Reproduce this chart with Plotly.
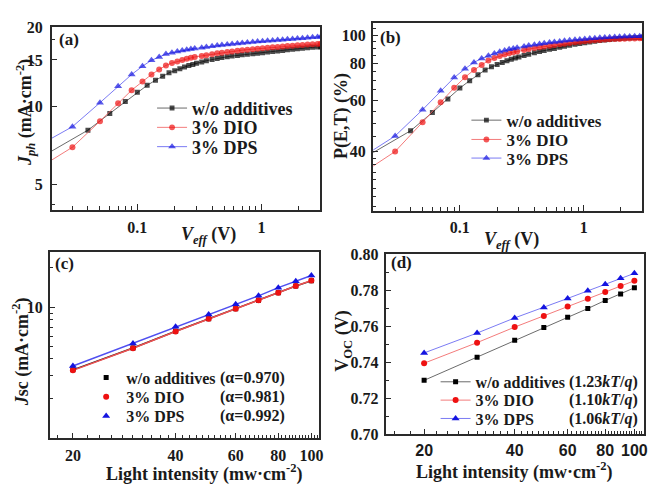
import plotly.graph_objects as go

W, H = 649, 484

# ---------------- data ----------------
# (a) photocurrent vs effective voltage
veff_even = [0.02, 0.04, 0.06, 0.08, 0.10, 0.12, 0.14, 0.16, 0.18, 0.20, 0.22, 0.24, 0.26, 0.28, 0.30,
             0.33, 0.36, 0.40, 0.44, 0.48, 0.53, 0.58, 0.64, 0.70, 0.77, 0.85, 0.93, 1.02, 1.12, 1.23,
             1.35, 1.48, 1.62, 1.78, 1.95, 2.14, 2.35, 2.58, 2.83, 3.0]
veff_odd = [0.02, 0.03, 0.05, 0.07, 0.09, 0.11, 0.13, 0.15, 0.17, 0.19, 0.21, 0.23, 0.25, 0.27, 0.29,
            0.33, 0.36, 0.40, 0.44, 0.48, 0.53, 0.58, 0.64, 0.70, 0.77, 0.85, 0.93, 1.02, 1.12, 1.23,
            1.35, 1.48, 1.62, 1.78, 1.95, 2.14, 2.35, 2.58, 2.83, 3.0]

jph_none = [6.69, 8.09, 9.37, 10.4, 11.3, 12.0, 12.55, 13.0, 13.4, 13.65, 13.9, 14.1, 14.28, 14.43, 14.57,
            14.75, 14.9, 15.05, 15.2, 15.32, 15.43, 15.53, 15.62, 15.7, 15.78, 15.86, 15.93, 16.0, 16.08, 16.16,
            16.24, 16.32, 16.4, 16.48, 16.56, 16.63, 16.7, 16.77, 16.83, 16.87]
jph_dio = [6.18, 6.96, 8.75, 10.26, 11.5, 12.4, 13.2, 13.8, 14.3, 14.6, 14.8, 15.0, 15.15, 15.3, 15.4,
           15.55, 15.65, 15.78, 15.9, 16.0, 16.1, 16.18, 16.27, 16.35, 16.43, 16.5, 16.57, 16.63, 16.7, 16.77,
           16.83, 16.9, 16.96, 17.02, 17.08, 17.13, 17.18, 17.23, 17.27, 17.3]
jph_dps = [7.49, 8.34, 10.3, 11.9, 13.2, 14.2, 14.96, 15.4, 15.8, 16.0, 16.15, 16.3, 16.42, 16.52, 16.6,
           16.72, 16.82, 16.93, 17.03, 17.12, 17.2, 17.28, 17.36, 17.43, 17.5, 17.57, 17.63, 17.7, 17.76, 17.82,
           17.88, 17.94, 18.0, 18.06, 18.12, 18.18, 18.25, 18.32, 18.38, 18.42]

# (b) dissociation probability P(E,T) (%)
p_none = [39.7, 47.1, 54.4, 60.5, 65.9, 69.9, 73.2, 76.0, 77.9, 79.4, 80.6, 81.7, 82.7, 83.5, 84.2,
          85.2, 86.0, 87.0, 87.9, 88.6, 89.4, 90.1, 90.9, 91.6, 92.3, 93.0, 93.6, 94.2, 94.8, 95.3,
          95.8, 96.2, 96.6, 97.0, 97.3, 97.6, 97.8, 98.0, 98.2, 98.3]
p_dio = [35.7, 40.0, 50.4, 59.0, 66.1, 71.8, 76.0, 79.1, 81.9, 83.5, 84.8, 85.8, 86.7, 87.4, 88.0,
         89.0, 89.6, 90.3, 90.9, 91.4, 92.0, 92.5, 93.0, 93.5, 94.0, 94.5, 94.9, 95.3, 95.7, 96.0,
         96.3, 96.6, 96.8, 97.0, 97.1, 97.2, 97.3, 97.4, 97.5, 97.6]
p_dps = [40.5, 45.2, 55.6, 64.5, 71.6, 76.7, 80.7, 83.2, 85.1, 86.5, 87.7, 88.6, 89.4, 90.0, 90.6,
         91.5, 92.1, 92.7, 93.3, 93.8, 94.3, 94.7, 95.2, 95.6, 96.0, 96.4, 96.7, 97.0, 97.3, 97.6,
         97.9, 98.1, 98.3, 98.5, 98.7, 98.9, 99.0, 99.1, 99.2, 99.3]

# (c), (d) light intensity dependence
light = [20, 30, 40, 50, 60, 70, 80, 90, 100]
jsc_none = [3.30, 4.86, 6.53, 8.15, 9.71, 11.3, 12.9, 14.5, 15.9]
jsc_dio = [3.27, 4.84, 6.50, 8.13, 9.70, 11.3, 12.9, 14.5, 16.0]
jsc_dps = [3.53, 5.26, 7.07, 8.77, 10.5, 12.2, 14.1, 15.8, 17.5]
voc_none = [0.7300, 0.7428, 0.7522, 0.7593, 0.7650, 0.7698, 0.7743, 0.7779, 0.7813]
voc_dio = [0.7395, 0.7509, 0.7595, 0.7657, 0.7709, 0.7752, 0.7789, 0.7823, 0.7852]
voc_dps = [0.7452, 0.7562, 0.7646, 0.7704, 0.7754, 0.7796, 0.7832, 0.7866, 0.7893]

names = ["w/o additives", "3% DIO", "3% DPS"]
alpha_labels = ["(α=0.970)", "(α=0.981)", "(α=0.992)"]
kt_labels = ["(1.23<i>kT</i>/<i>q</i>)", "(1.10<i>kT</i>/<i>q</i>)", "(1.06<i>kT</i>/<i>q</i>)"]

# ---------------- style ----------------
SERIF = "Liberation Serif, Times New Roman, serif"
SANS = "Liberation Sans, Arial, sans-serif"
TXT = "#1a1a1a"
mcol = ["#000000", "#ee1111", "#1414e0"]
lcol = ["rgba(70,70,70,0.8)", "rgba(240,90,90,0.8)", "rgba(90,90,240,0.8)"]
fitcol = ["#222222", "#f05050", "#5050f0"]
syms = ["square", "circle", "triangle-up"]
msz = [5, 6, 7]


def fx(px):
    return px / W


def fy(py):
    return 1 - py / H


fig = go.Figure()

# legend placement per panel: (text-start x, row centres y, font size)
leg_pos = [
    (193.0, [104.0, 124.0, 144.0], 18),
    (509.3, [116.7, 136.7, 156.0], 17),
    (126.7, [383.0, 403.0, 423.0], 16),
    (478.3, [387.5, 406.5, 425.5], 16),
]


def legname(p, i):
    k = p * 3 + i + 1
    return "legend" if k == 1 else "legend%d" % k


# (a) and (b)
xs_ab = [veff_even, veff_odd, veff_odd]
for p, (ys_list, xa, ya) in enumerate([([jph_none, jph_dio, jph_dps], "x", "y"),
                                       ([p_none, p_dio, p_dps], "x2", "y2")]):
    for i in range(3):
        sizes = [0] + [msz[i]] * (len(xs_ab[i]) - 1)
        fig.add_trace(go.Scatter(
            x=xs_ab[i], y=ys_list[i], mode="lines+markers", name=names[i],
            line=dict(color=lcol[i], width=1),
            marker=dict(symbol=syms[i], color=mcol[i], size=sizes, line=dict(width=0)),
            xaxis=xa, yaxis=ya, legend=legname(p, i)))

# (c)
jscs = [jsc_none, jsc_dio, jsc_dps]
for i in range(3):
    fig.add_trace(go.Scatter(x=light, y=jscs[i], mode="lines", showlegend=False,
                             line=dict(color=fitcol[i], width=1.5),
                             xaxis="x3", yaxis="y3"))
for i in range(3):
    fig.add_trace(go.Scatter(x=light, y=jscs[i], mode="markers", name=names[i],
                             marker=dict(symbol=syms[i], color=mcol[i], size=msz[i], line=dict(width=0)),
                             xaxis="x3", yaxis="y3", legend=legname(2, i)))

# (d)
vocs = [voc_none, voc_dio, voc_dps]
for i in range(3):
    fig.add_trace(go.Scatter(x=light, y=vocs[i], mode="lines+markers", name=names[i],
                             line=dict(color=lcol[i], width=1),
                             marker=dict(symbol=syms[i], color=mcol[i], size=msz[i], line=dict(width=0)),
                             xaxis="x4", yaxis="y4", legend=legname(3, i)))

axis_common = dict(showline=True, linecolor="#2a2a2a", linewidth=1.6, mirror=True,
                   ticks="inside", ticklen=6, tickwidth=1.3, tickcolor="#2a2a2a",
                   showgrid=False, zeroline=False,
                   tickfont=dict(family=SERIF, size=16, color=TXT, weight="bold"))
minor_common = dict(ticks="inside", ticklen=3.5, tickwidth=1, tickcolor="#2a2a2a", showgrid=False)

logminor_v = [0.02, 0.03, 0.04, 0.05, 0.06, 0.07, 0.08, 0.09, 0.2, 0.3, 0.4, 0.5, 0.6, 0.7, 0.8, 0.9, 2, 3]
light_minor = [v for v in range(16, 108, 2) if v not in (20, 40, 60, 80, 100)]

fig.update_layout(
    width=W, height=H, margin=dict(l=0, r=0, t=0, b=0),
    paper_bgcolor="white", plot_bgcolor="white",
    font=dict(family=SERIF, color=TXT),
    xaxis=dict(axis_common, type="log", domain=[fx(52), fx(322.3)], anchor="y",
               range=[-1.690, 0.474], tickvals=[0.1, 1], ticktext=["0.1", "1"], ticklabelstandoff=2,
               minor=dict(minor_common, tickvals=logminor_v)),
    yaxis=dict(axis_common, type="log", domain=[fy(209), fy(20)], anchor="x",
               range=[0.604, 1.301], tickvals=[5, 10, 15, 20], ticktext=["5", "10", "15", "20"],
               ticklabelstandoff=4,
               minor=dict(minor_common, tickvals=[4.2, 18])),
    xaxis2=dict(axis_common, type="log", domain=[fx(375), fx(646)], anchor="y2",
                range=[-1.704, 0.471], tickvals=[0.1, 1], ticktext=["0.1", "1"], ticklabelstandoff=1,
                minor=dict(minor_common, tickvals=logminor_v)),
    yaxis2=dict(axis_common, type="log", domain=[fy(210), fy(16)], anchor="x2",
                range=[1.40, 2.04], tickvals=[40, 60, 80, 100], ticktext=["40", "60", "80", "100"],
                ticklabelstandoff=2,
                minor=dict(minor_common, tickvals=[26, 28, 30, 32, 34, 36, 38, 45, 50, 55, 65, 70, 75, 85, 90, 95, 105])),
    xaxis3=dict(axis_common, type="log", domain=[fx(50), fx(321)], anchor="y3",
                range=[1.233, 2.0224], tickvals=[20, 40, 60, 80, 100], ticktext=["20", "40", "60", "80", "100"],
                ticklabelstandoff=2,
                minor=dict(minor_common, tickvals=light_minor)),
    yaxis3=dict(axis_common, type="log", domain=[fy(446), fy(253)], anchor="x3",
                range=[-0.007, 1.422], tickvals=[10], ticktext=["10"], ticklabelstandoff=2,
                minor=dict(minor_common, tickvals=[2, 3, 4, 5, 6, 7, 8, 9, 20])),
    xaxis4=dict(axis_common, type="log", domain=[fx(388), fx(648)], anchor="y4",
                range=[1.173, 2.032], tickvals=[20, 40, 60, 80, 100], ticktext=["20", "40", "60", "80", "100"],
                ticklabelstandoff=1,
                tickfont=dict(family=SANS, size=16, color=TXT, weight="bold"),
                minor=dict(minor_common, tickvals=light_minor)),
    yaxis4=dict(axis_common, domain=[fy(442), fy(255)], anchor="x4",
                range=[0.70, 0.80], tickvals=[0.70, 0.72, 0.74, 0.76, 0.78, 0.80],
                ticktext=["0.70", "0.72", "0.74", "0.76", "0.78", "0.80"], ticklabelstandoff=2,
                minor=dict(minor_common, tickvals=[0.71, 0.73, 0.75, 0.77, 0.79])),
)

legends = {}
for p, (tx, rows, fs) in enumerate(leg_pos):
    for i in range(3):
        legends[legname(p, i)] = dict(
            bgcolor="rgba(0,0,0,0)", borderwidth=0, xanchor="left", yanchor="middle",
            x=fx(tx - 40), y=fy(rows[i]), itemwidth=30,
            font=dict(family=SERIF, size=fs, color=TXT, weight="bold"))
fig.update_layout(**legends)

ann = []


def add_text(text, px, py, size=18, angle=0, xanchor="center", yanchor="middle", family=SERIF):
    ann.append(dict(text=text, x=fx(px), y=fy(py), xref="paper", yref="paper",
                    xanchor=xanchor, yanchor=yanchor, showarrow=False, textangle=angle,
                    font=dict(family=family, size=size, color=TXT, weight="bold")))


# panel labels
add_text("(a)", 57, 33, 17, xanchor="left")
add_text("(b)", 380, 31, 17, xanchor="left")
add_text("(c)", 53, 265, 17, xanchor="left")
add_text("(d)", 391, 264, 17, xanchor="left")

# axis titles
add_text("<i>J<sub>ph</sub></i> (mA·cm<sup>-2</sup>)", 25, 108, 18, angle=-90)
add_text("<i>V<sub>eff</sub></i> (V)", 210, 236, 18)
add_text("P(E,T) (%)", 343, 112, 18, angle=-90)
add_text("<i>V<sub>eff</sub></i> (V)", 515, 241, 18)
add_text("<i>J</i>sc (mA·cm<sup>-2</sup>)", 22, 356, 18, angle=-90)
add_text("Light intensity (mw·cm<sup>-2</sup>)", 206, 482, 18)
add_text("V<sub>OC</sub> (V)", 346, 345, 18, angle=-90)
add_text("Light intensity (mw·cm<sup>-2</sup>)", 518, 480, 18)

# alpha and ideality annotations
for i, yy in enumerate(leg_pos[2][1]):
    add_text(alpha_labels[i], 219, yy, 16, xanchor="left")
for i, yy in enumerate(leg_pos[3][1]):
    add_text(kt_labels[i], 644, yy, 16, xanchor="right")

fig.update_layout(annotations=ann)

fig.write_html("out.html")
